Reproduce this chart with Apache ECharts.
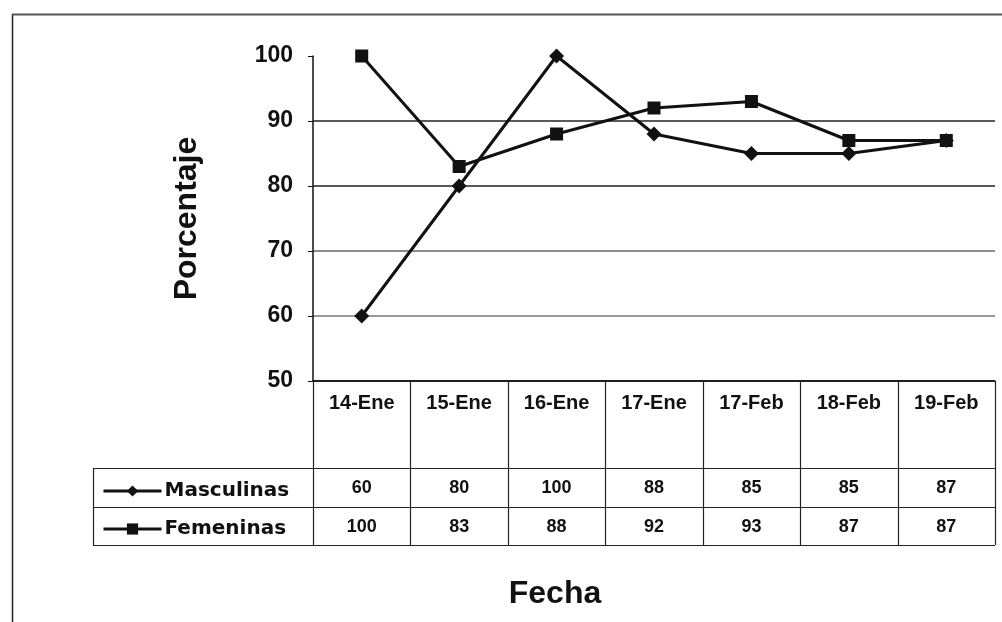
<!DOCTYPE html>
<html>
<head>
<meta charset="utf-8">
<script src="https://cdn.jsdelivr.net/npm/echarts@6/dist/echarts.min.js"></script>
<style>
  html, body { margin: 0; padding: 0; background: #fff; }
  #chart { width: 1002px; height: 622px; }
</style>
</head>
<body>
<div id="chart"></div>
<script>
// datos
var fechas = ['14-Ene', '15-Ene', '16-Ene', '17-Ene', '17-Feb', '18-Feb', '19-Feb'];
var masculinas = [60, 80, 100, 88, 85, 85, 87];
var femeninas = [100, 83, 88, 92, 93, 87, 87];
var yTicks = [50, 60, 70, 80, 90, 100];

var FONT = '"Liberation Sans", Arial, sans-serif';
var G_LEFT = 313, G_RIGHT = 995, G_TOP = 56, G_BOTTOM = 381;
var ROW1 = 468, ROW2 = 507, ROW3 = 545, TBL_LEFT = 93;

var chart = echarts.init(document.getElementById('chart'));

// lineas de la tabla de datos
var graficos = [];
var colW = (G_RIGHT - G_LEFT) / fechas.length;
for (var i = 0; i <= fechas.length; i++) {
    var x = Math.round(G_LEFT + colW * i) + 0.5;
    graficos.push({ type: 'line', shape: { x1: x, y1: G_BOTTOM, x2: x, y2: ROW3 }, style: { stroke: '#222', lineWidth: 1.2 } });
}
[ROW1, ROW2, ROW3].forEach(function (y) {
    graficos.push({ type: 'line', shape: { x1: TBL_LEFT, y1: y + 0.5, x2: G_RIGHT, y2: y + 0.5 }, style: { stroke: '#222', lineWidth: 1.2 } });
});
graficos.push({ type: 'line', shape: { x1: TBL_LEFT + 0.5, y1: ROW1, x2: TBL_LEFT + 0.5, y2: ROW3 }, style: { stroke: '#222', lineWidth: 1.2 } });
// marco exterior
graficos.push({ type: 'line', shape: { x1: 12.5, y1: 14, x2: 12.5, y2: 622 }, style: { stroke: '#222', lineWidth: 1.5 } });
graficos.push({ type: 'line', shape: { x1: 12, y1: 14.5, x2: 1002, y2: 14.5 }, style: { stroke: '#555', lineWidth: 2 } });
// titulo eje x
graficos.push({
    type: 'text', x: 555, y: 594,
    style: { text: 'Fecha', font: 'bold 32px ' + FONT, fill: '#111', textAlign: 'center', textVerticalAlign: 'middle' }
});

function rowAxis(vals, offset) {
    return {
        type: 'category', data: fechas, position: 'bottom', offset: offset,
        axisLine: { show: false }, axisTick: { show: false },
        axisLabel: {
            margin: 8, fontFamily: FONT, fontWeight: 'bold', fontSize: 18, color: '#111',
            formatter: function (v, idx) { return vals[idx]; }
        }
    };
}

var option = {
    animation: false,
    backgroundColor: '#fff',
    grid: { left: G_LEFT, right: 1002 - G_RIGHT, top: G_TOP, bottom: 622 - G_BOTTOM },
    legend: {
        orient: 'vertical', left: 97, top: 476, itemGap: 18,
        itemWidth: 58, itemHeight: 14, selectedMode: false,
        lineStyle: { width: 3 },
        textStyle: { fontFamily: '"DejaVu Sans", sans-serif', fontWeight: 'bold', fontSize: 20, color: '#111', padding: [0, 0, 0, -2] },
        data: ['Masculinas', 'Femeninas']
    },
    xAxis: [
        {
            type: 'category', data: fechas, boundaryGap: true,
            axisLine: { show: true, lineStyle: { color: '#111', width: 1.5 } },
            axisTick: { show: false },
            axisLabel: { margin: 12, fontFamily: FONT, fontWeight: 'bold', fontSize: 20, color: '#111' }
        },
        rowAxis(masculinas, 90),
        rowAxis(femeninas, 129)
    ],
    yAxis: {
        type: 'value', min: 50, max: 100, interval: 10,
        name: 'Porcentaje', nameLocation: 'middle', nameGap: 110,
        nameTextStyle: { fontFamily: FONT, fontWeight: 'bold', fontSize: 32, color: '#111' },
        axisLine: { show: true, lineStyle: { color: '#111', width: 1.5 } },
        axisTick: { show: true, length: 5, lineStyle: { color: '#111' } },
        axisLabel: {
            margin: 20, fontFamily: FONT, fontWeight: 'bold', fontSize: 23, color: '#111',
            customValues: yTicks
        },
        splitLine: { show: true, lineStyle: { color: ['#111', '#777', '#666', '#222', '#222', 'rgba(0,0,0,0)'], width: 1.5 } }
    },
    series: [
        {
            name: 'Masculinas', type: 'line', data: masculinas,
            symbol: 'diamond', symbolSize: 15,
            lineStyle: { color: '#111', width: 3 },
            itemStyle: { color: '#111' }
        },
        {
            name: 'Femeninas', type: 'line', data: femeninas,
            symbol: 'rect', symbolSize: 13,
            lineStyle: { color: '#111', width: 3 },
            itemStyle: { color: '#111' }
        }
    ],
    graphic: graficos
};
chart.setOption(option);
</script>
</body>
</html>
